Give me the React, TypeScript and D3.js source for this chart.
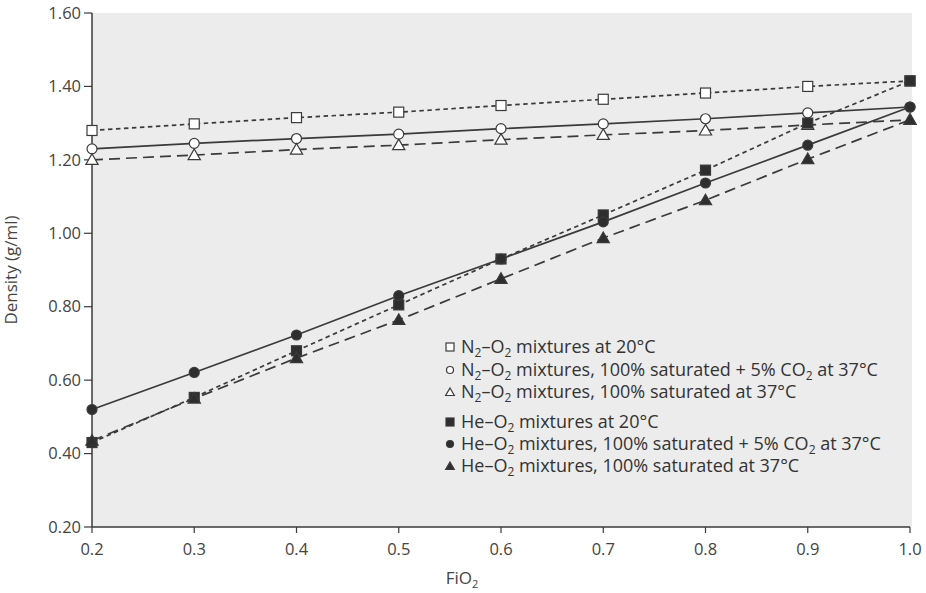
import React from 'react'
import * as d3 from 'd3'

// FiO2 values on the x axis
const fio2 = [0.2, 0.3, 0.4, 0.5, 0.6, 0.7, 0.8, 0.9, 1.0]

// densities in g/ml
const n2At20 = [1.28, 1.298, 1.315, 1.33, 1.348, 1.365, 1.382, 1.40, 1.415]
const n2SatCo2 = [1.23, 1.245, 1.258, 1.27, 1.285, 1.298, 1.312, 1.328, 1.344]
const n2Sat = [1.20, 1.213, 1.228, 1.24, 1.255, 1.268, 1.28, 1.295, 1.309]
const heAt20 = [0.43, 0.553, 0.68, 0.805, 0.93, 1.05, 1.172, 1.30, 1.415]
const heSatCo2 = [0.52, 0.621, 0.723, 0.83, 0.93, 1.031, 1.137, 1.24, 1.344]
const heSat = [0.435, 0.55, 0.66, 0.764, 0.876, 0.987, 1.09, 1.202, 1.309]

const yTicks = [0.2, 0.4, 0.6, 0.8, 1.0, 1.2, 1.4, 1.6]

const series = [
  { gas: 'N', values: n2At20, dash: '4.5,3.5', marker: 'square', filled: false, label: ' mixtures at 20°C', co2: false },
  { gas: 'N', values: n2SatCo2, dash: null, marker: 'circle', filled: false, label: ' mixtures, 100% saturated + 5% ', co2: true },
  { gas: 'N', values: n2Sat, dash: '11,6', marker: 'triangle', filled: false, label: ' mixtures, 100% saturated at 37°C', co2: false },
  { gas: 'He', values: heAt20, dash: '4.5,3.5', marker: 'square', filled: true, label: ' mixtures at 20°C', co2: false },
  { gas: 'He', values: heSatCo2, dash: null, marker: 'circle', filled: true, label: ' mixtures, 100% saturated + 5% ', co2: true },
  { gas: 'He', values: heSat, dash: '11,6', marker: 'triangle', filled: true, label: ' mixtures, 100% saturated at 37°C', co2: false },
]

const ink = '#3a3a3a'
const font = '"Open Sans", "Noto Sans", sans-serif'

function Marker({ type, x, y, filled, size }) {
  const fill = filled ? '#2e2e2e' : '#fff'
  const sw = 1.2
  if (type === 'square') {
    return <rect x={x - size / 2} y={y - size / 2} width={size} height={size} fill={fill} stroke={ink} strokeWidth={sw} />
  }
  if (type === 'circle') {
    return <circle cx={x} cy={y} r={size / 2} fill={fill} stroke={ink} strokeWidth={sw} />
  }
  const path = d3.symbol(d3.symbolTriangle, size * size * 0.45)()
  return <path d={path} transform={`translate(${x},${y + 1})`} fill={fill} stroke={ink} strokeWidth={sw} />
}

export default function App() {
  const margin = { left: 92, top: 13, right: 16, bottom: 66 }
  const width = 926
  const height = 593

  const x = d3.scaleLinear().domain([0.2, 1.0]).range([margin.left, width - margin.right])
  const y = d3.scaleLinear().domain([0.2, 1.6]).range([height - margin.bottom, margin.top])

  const line = d3.line<number>()
    .x((_, i) => x(fio2[i]))
    .y(d => y(d))

  const legendX = 450
  const legendRows = [347, 370, 392, 422, 444, 466]

  return (
    <div style={{ position: 'fixed', left: 0, top: 0 }}>
      <svg width={width} height={height} style={{ display: 'block', background: '#fff' }}>
        <rect x={x(0.2)} y={y(1.6)} width={x(1.0) - x(0.2) + 2} height={y(0.2) - y(1.6)} fill="#ececec" />

        {/* y axis */}
        <line x1={x(0.2)} x2={x(0.2)} y1={y(1.6)} y2={y(0.2)} stroke={ink} strokeWidth={1.5} />
        {yTicks.map(t => (
          <g key={t}>
            <line x1={x(0.2) - 8} x2={x(0.2)} y1={y(t)} y2={y(t)} stroke={ink} strokeWidth={1.2} />
            <text x={x(0.2) - 11} y={y(t)} dy="0.35em" textAnchor="end" fontSize={16.5} fill="#444" fontFamily={font}>
              {t.toFixed(2)}
            </text>
          </g>
        ))}
        <text transform={`translate(17,${(y(1.6) + y(0.2)) / 2}) rotate(-90)`} textAnchor="middle" fontSize={17} fill="#444" fontFamily={font}>
          Density (g/ml)
        </text>

        {/* x axis */}
        <line x1={x(0.2)} x2={x(1.0)} y1={y(0.2)} y2={y(0.2)} stroke={ink} strokeWidth={1.5} />
        {fio2.map(t => (
          <g key={t}>
            <line x1={x(t)} x2={x(t)} y1={y(0.2)} y2={y(0.2) + 6} stroke={ink} strokeWidth={1.2} />
            <text x={x(t)} y={y(0.2) + 28} textAnchor="middle" fontSize={16.5} fill="#444" fontFamily={font}>
              {t.toFixed(1)}
            </text>
          </g>
        ))}
        <text x={462} y={584} textAnchor="middle" fontSize={17} fill="#444" fontFamily={font}>
          FiO<tspan fontSize={11} dy={4}>2</tspan>
        </text>

        {/* lines */}
        {series.map((s, i) => (
          <path key={i} d={line(s.values)} fill="none" stroke={ink} strokeWidth={1.7} strokeDasharray={s.dash || undefined} />
        ))}
        {/* markers */}
        {series.map((s, i) => (
          <g key={i}>
            {s.values.map((v, j) => (
              <Marker key={j} type={s.marker} x={x(fio2[j])} y={y(v)} filled={s.filled} size={s.marker === 'circle' ? 10 : s.marker === 'square' ? 10 : 12} />
            ))}
          </g>
        ))}

        {/* legend */}
        {series.map((s, i) => (
          <g key={i}>
            <Marker type={s.marker} x={legendX} y={legendRows[i]} filled={s.filled} size={s.marker === 'circle' ? 7 : s.marker === 'square' ? 8 : 8.5} />
            <text x={legendX + 11} y={legendRows[i]} dy="0.35em" fontSize={18} fill="#333" fontFamily={font}>
              {s.gas === 'N' ? 'N' : 'He'}
              {s.gas === 'N' ? <tspan fontSize={12} dy={4}>2</tspan> : null}
              <tspan dy={s.gas === 'N' ? -4 : 0}>–O</tspan>
              <tspan fontSize={12} dy={4}>2</tspan>
              <tspan dy={-4}>{s.label}</tspan>
              {s.co2 ? (
                <>
                  <tspan>CO</tspan>
                  <tspan fontSize={12} dy={4}>2</tspan>
                  <tspan dy={-4}> at 37°C</tspan>
                </>
              ) : null}
            </text>
          </g>
        ))}
      </svg>
    </div>
  )
}
